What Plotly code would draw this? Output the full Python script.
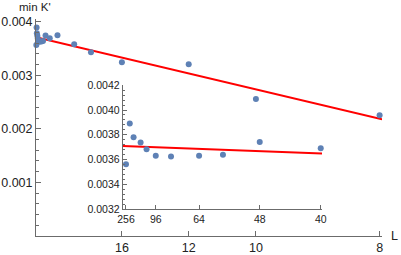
import plotly.graph_objects as go

# ---- data ----
L_vals = [8, 10, 12, 16, 20, 24, 32, 40, 48, 56, 64, 80, 96, 112, 128, 160, 192, 256]
minK = [0.002252, 0.002556, 0.003203, 0.003241, 0.003427, 0.003577, 0.003744,
        0.003692, 0.003741, 0.003638, 0.003630, 0.003625, 0.003630, 0.003684,
        0.003738, 0.003781, 0.003892, 0.003562]

inset_L = [40, 48, 56, 64, 80, 96, 112, 128, 160, 192, 256]
inset_minK = [0.003692, 0.003741, 0.003638, 0.003630, 0.003625, 0.003630,
              0.003684, 0.003738, 0.003781, 0.003892, 0.003562]

# linear fit in 1/L^2
fit_intercept = 0.00371
fit_slope = -0.0975

main_tick_L = [16, 12, 10, 8]
inset_tick_L = [256, 96, 64, 48, 40]
main_y_ticks = [0.001, 0.002, 0.003, 0.004]
inset_y_ticks = [0.0032, 0.0034, 0.0036, 0.0038, 0.0040, 0.0042]

# ---- derived ----
x_all = [1.0 / L**2 for L in L_vals]
x_in = [1.0 / L**2 for L in inset_L]

main_xr = [0, 0.015734]
main_yr = [0, 0.004049]
inset_xr = [5e-6, 6.29e-4]
inset_yr = [0.0032, 0.0042]

fit_x_main = main_xr
fit_y_main = [fit_intercept + fit_slope * x for x in fit_x_main]
fit_x_in = inset_xr
fit_y_in = [fit_intercept + fit_slope * x for x in fit_x_in]

BLUE = "#5E81B5"
AX = "#6b6b6b"
TXT = "#222222"
FONT = "Liberation Sans, Arial, sans-serif"

fig = go.Figure()

# main
fig.add_trace(go.Scatter(x=fit_x_main, y=fit_y_main, mode="lines",
                         line=dict(color="#FF0000", width=2),
                         xaxis="x", yaxis="y", hoverinfo="skip", cliponaxis=False))
fig.add_trace(go.Scatter(x=x_all, y=minK, mode="markers",
                         marker=dict(color=BLUE, size=6),
                         xaxis="x", yaxis="y", cliponaxis=False))
# inset
fig.add_trace(go.Scatter(x=fit_x_in, y=fit_y_in, mode="lines",
                         line=dict(color="#FF0000", width=2),
                         xaxis="x2", yaxis="y2", hoverinfo="skip"))
fig.add_trace(go.Scatter(x=x_in, y=inset_minK, mode="markers",
                         marker=dict(color=BLUE, size=6),
                         xaxis="x2", yaxis="y2", cliponaxis=False))

W, H = 401, 255
ml, mr, mt, mb = 36, 19, 19, 19
pw, ph = W - ml - mr, H - mt - mb

def px_to_paper_x(px):
    return (px - ml) / pw

def px_to_paper_y(py):
    return (H - mb - py) / ph

common = dict(showgrid=False, zeroline=False, showline=True, linecolor=AX,
              linewidth=1, ticks="inside", tickcolor=AX, mirror=False,
              automargin=False)

fig.update_layout(
    width=W, height=H,
    margin=dict(l=ml, r=mr, t=mt, b=mb, autoexpand=False),
    paper_bgcolor="white", plot_bgcolor="rgba(0,0,0,0)",
    showlegend=False,
    font=dict(family=FONT, color=TXT),
    xaxis=dict(**common, range=main_xr, domain=[0, 1],
               tickmode="array", tickvals=[1.0 / L**2 for L in main_tick_L],
               ticktext=[str(L) for L in main_tick_L],
               ticklen=5, tickfont=dict(size=12.5, family=FONT, color=TXT)),
    yaxis=dict(**common, range=main_yr, domain=[0, 1],
               tickmode="array", tickvals=main_y_ticks,
               ticktext=[f"{v:.3f}" for v in main_y_ticks],
               ticklen=5, tickfont=dict(size=12.5, family=FONT, color=TXT),
               minor=dict(tickmode="linear", tick0=0, dtick=0.0002,
                          ticks="inside", ticklen=2.5, tickcolor=AX)),
    xaxis2=dict(**common, range=inset_xr, anchor="y2",
                domain=[px_to_paper_x(122.7), px_to_paper_x(322)],
                tickmode="array", tickvals=[1.0 / L**2 for L in inset_tick_L],
                ticktext=[str(L) for L in inset_tick_L],
                ticklen=4, tickfont=dict(size=10.5, family=FONT, color=TXT)),
    yaxis2=dict(**common, range=inset_yr, anchor="x2",
                domain=[px_to_paper_y(209), px_to_paper_y(85.3)],
                tickmode="array", tickvals=inset_y_ticks,
                ticktext=[f"{v:.4f}" for v in inset_y_ticks],
                ticklen=4, tickfont=dict(size=10.5, family=FONT, color=TXT),
                minor=dict(tickmode="linear", tick0=0.0032, dtick=0.00004,
                           ticks="inside", ticklen=2, tickcolor=AX)),
    annotations=[
        dict(text="min K'", xref="paper", yref="paper",
             x=px_to_paper_x(34.5), y=px_to_paper_y(7),
             xanchor="center", yanchor="middle", showarrow=False,
             font=dict(size=11.5, family=FONT, color=TXT)),
        dict(text="L", xref="paper", yref="paper",
             x=px_to_paper_x(389), y=px_to_paper_y(236),
             xanchor="left", yanchor="middle", showarrow=False,
             font=dict(size=12.5, family=FONT, color=TXT)),
    ],
)

fig.write_html("out.html", config={"displayModeBar": False},
               post_script="document.body.style.margin='0';document.body.style.padding='0';")
